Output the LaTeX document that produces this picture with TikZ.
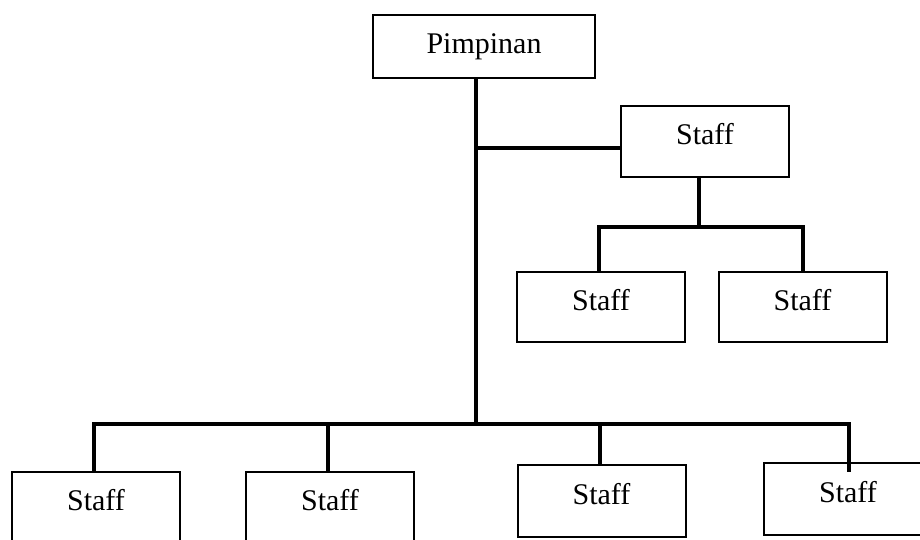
\documentclass[tikz,border=0pt]{standalone}
\usepackage{fontspec}
\setmainfont{Liberation Serif}
\begin{document}
\begin{tikzpicture}[x=1pt,y=-1pt,
  box/.style={draw, line width=2pt, rectangle, inner sep=0pt, font=\fontsize{30}{36}\selectfont},
  staffbox/.style={box, minimum width=168pt, minimum height=70pt, text height=21pt, text depth=14pt},
  conn/.style={draw, line width=4pt, line join=miter}]
\path[use as bounding box] (0,0) rectangle (920,540);
\clip (0,0) rectangle (920,540);
\fill[white] (0,0) rectangle (920,540);
% nodes
\node[box, minimum width=222pt, minimum height=63pt] (P) at (484,46.5) {Pimpinan};
\node[staffbox, minimum height=71pt] (S0) at (705,141.5) {Staff};
\node[staffbox] (S1) at (601,307) {Staff};
\node[staffbox] (S2) at (802.5,307) {Staff};
\node[staffbox] (B1) at (96,507) {Staff};
\node[staffbox] (B2) at (330,507) {Staff};
\node[staffbox, minimum height=72pt] (B3) at (601.5,501) {Staff};
\node[staffbox, minimum height=72pt] (B4) at (848,499) {Staff};
% junction coordinates
\coordinate (jt) at (476,148);
\coordinate (jb) at (476,424);
\coordinate (js) at (699,227);
\coordinate (bl) at (94,424);
\coordinate (b2) at (328,424);
\coordinate (b3) at (600,424);
\coordinate (br) at (849,424);
\coordinate (b4end) at (849,472);
% connectors
\draw[conn] (P.south -| jt) -- (jb);
\draw[conn] (jt) -- (jt -| S0.west);
\draw[conn] (S0.south -| js) -- (js);
\draw[conn] (S1.north -| 599,0) -- (599,227) -- (803,227) -- (S2.north -| 803,0);
\draw[conn] (B1.north -| bl) -- (bl) -- (br) -- (b4end);
\draw[conn] (b2) -- (B2.north -| b2);
\draw[conn] (b3) -- (B3.north -| b3);
\end{tikzpicture}
\end{document}
